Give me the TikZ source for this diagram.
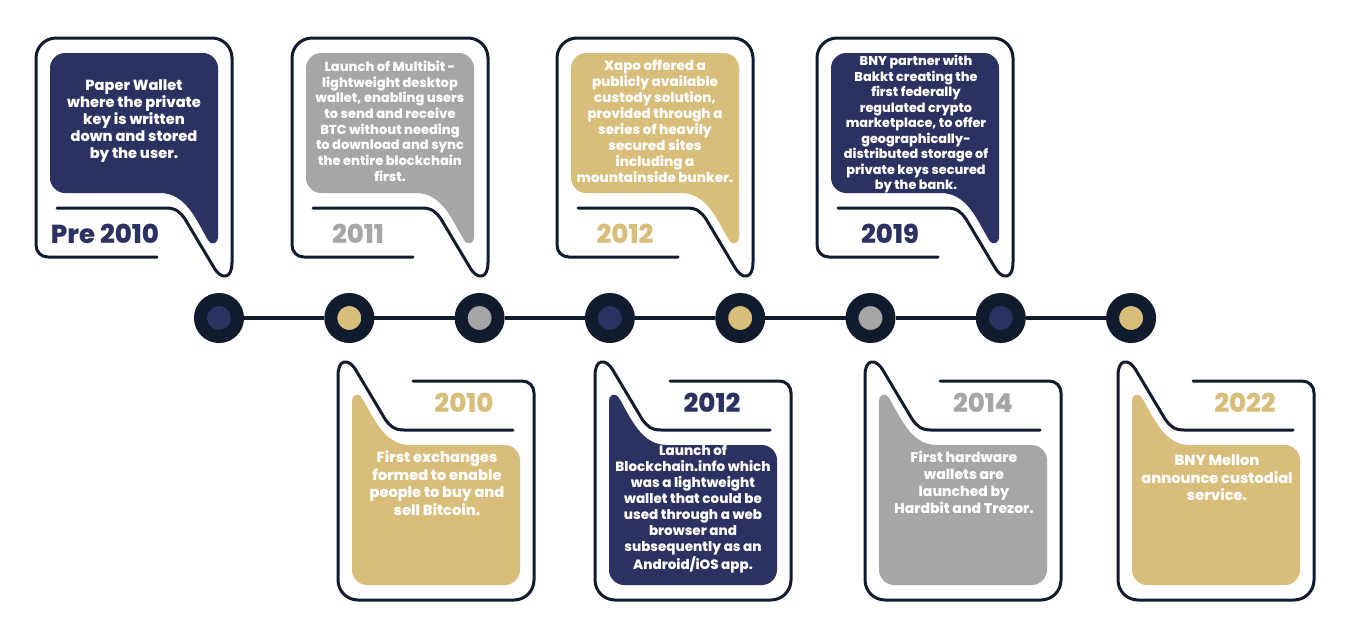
\documentclass[tikz,border=0pt]{standalone}
\usepackage{fontspec}
\setmainfont{Poppins}[BoldFont={Poppins ExtraBold}]
\definecolor{navy}{HTML}{2B3160}
\definecolor{gold}{HTML}{D8BD7B}
\definecolor{greyc}{HTML}{A6A6A6}
\definecolor{dark}{HTML}{111B2E}
\newcommand\tlCardShape[1]{%
  \fill[#1] (14,30) .. controls (14,22) and (21,15) .. (29,15) -- (167,15)
    .. controls (175,15) and (182,22) .. (182,30) -- (182,198)
    .. controls (182,206) and (176,208) .. (172,202)
    .. controls (160,182) and (150,155) .. (124,155) -- (29,155)
    .. controls (21,155) and (14,148) .. (14,140) -- cycle;
  \draw[outl] (21,170) -- (130,170) .. controls (140,170) and (144,174) .. (149,181)
    -- (177,228) .. controls (181,235) and (185,239) .. (190,238)
    .. controls (194,237) and (196,232) .. (196,224) -- (196,20)
    .. controls (196,9) and (187,0) .. (176,0) -- (20,0)
    .. controls (9,0) and (0,9) .. (0,20) -- (0,207)
    .. controls (0,214) and (5,219) .. (12,219) -- (121,219);
}
\begin{document}
\begin{tikzpicture}[x=1pt,y=-1pt,
  outl/.style={draw=dark,line width=3pt,line cap=round,line join=round},
  dot/.style={circle,draw=dark,line width=13pt,minimum size=37pt,inner sep=0pt},
  body/.style={text=white,font=\bfseries,align=center,inner sep=0pt},
  year/.style={font=\bfseries\fontsize{26}{26}\selectfont,inner sep=0pt}]
\useasboundingbox[fill=white] (0,0) rectangle (1357,635);
% timeline dots
\node[dot,fill=navy]  (d1) at (219,318) {};
\node[dot,fill=gold]  (d2) at (349.3,318) {};
\node[dot,fill=greyc] (d3) at (479.6,318) {};
\node[dot,fill=navy]  (d4) at (609.9,318) {};
\node[dot,fill=gold]  (d5) at (740.2,318) {};
\node[dot,fill=greyc] (d6) at (870.5,318) {};
\node[dot,fill=navy]  (d7) at (1000.8,318) {};
\node[dot,fill=gold]  (d8) at (1131.1,318) {};
\foreach \a/\b in {1/2,2/3,3/4,4/5,5/6,6/7,7/8}
  \draw[dark,line width=3.5pt] (d\a.east) -- (d\b.west);
% top cards
\begin{scope}[shift={(36,38)}]\tlCardShape{navy}\end{scope}
\begin{scope}[shift={(292,38)}]\tlCardShape{greyc}\end{scope}
\begin{scope}[shift={(557,38)}]\tlCardShape{gold}\end{scope}
\begin{scope}[shift={(817,38)}]\tlCardShape{navy}\end{scope}
% bottom cards
\begin{scope}[shift={(534,600)},rotate=180]\tlCardShape{gold}\end{scope}
\begin{scope}[shift={(791,600)},rotate=180]\tlCardShape{navy}\end{scope}
\begin{scope}[shift={(1061,600)},rotate=180]\tlCardShape{greyc}\end{scope}
\begin{scope}[shift={(1314,600)},rotate=180]\tlCardShape{gold}\end{scope}
% top texts
\node[body,font=\bfseries\fontsize{14.6}{17}\selectfont] (t1) at (134,121) {Paper Wallet\\where the private\\key is written\\down and stored\\by the user.};
\node[body,font=\bfseries\fontsize{13}{15.7}\selectfont] (t2) at (390,121) {Launch of Multibit -\\lightweight desktop\\wallet, enabling users\\to send and receive\\BTC without needing\\to download and sync\\the entire blockchain\\first.};
\node[body,font=\bfseries\fontsize{13.5}{16}\selectfont] (t3) at (655,121) {Xapo offered a\\publicly available\\custody solution,\\provided through a\\series of heavily\\secured sites\\including a\\mountainside bunker.};
\node[body,font=\bfseries\fontsize{12.8}{15.5}\selectfont] (t4) at (916,124) {BNY partner with\\Bakkt creating the\\first federally\\regulated crypto\\marketplace, to offer\\geographically-\\distributed storage of\\private keys secured\\by the bank.};
\node[year,text=navy]  (y1) at (105,234) {Pre 2010};
\node[year,text=greyc] (y2) at (358,234) {2011};
\node[year,text=gold]  (y3) at (625,234) {2012};
\node[year,text=navy]  (y4) at (890,234) {2019};
% bottom texts
\node[body,font=\bfseries\fontsize{14.6}{17.5}\selectfont] (b1) at (437,483) {First exchanges\\formed to enable\\people to buy and\\sell Bitcoin.};
\node[body,font=\bfseries\fontsize{13.5}{16}\selectfont] (b2) at (693,509) {Launch of\\Blockchain.info which\\was a lightweight\\wallet that could be\\used through a web\\browser and\\subsequently as an\\Android/iOS app.};
\node[body,font=\bfseries\fontsize{14}{17}\selectfont] (b3) at (964,482) {First hardware\\wallets are\\launched by\\Hardbit and Trezor.};
\node[body,font=\bfseries\fontsize{14.6}{17.5}\selectfont] (b4) at (1217,478) {BNY Mellon\\announce custodial\\service.};
\node[year,text=gold]  (y5) at (464,403) {2010};
\node[year,text=navy]  (y6) at (712,403) {2012};
\node[year,text=greyc] (y7) at (983,403) {2014};
\node[year,text=gold]  (y8) at (1245,403) {2022};
\end{tikzpicture}
\end{document}
